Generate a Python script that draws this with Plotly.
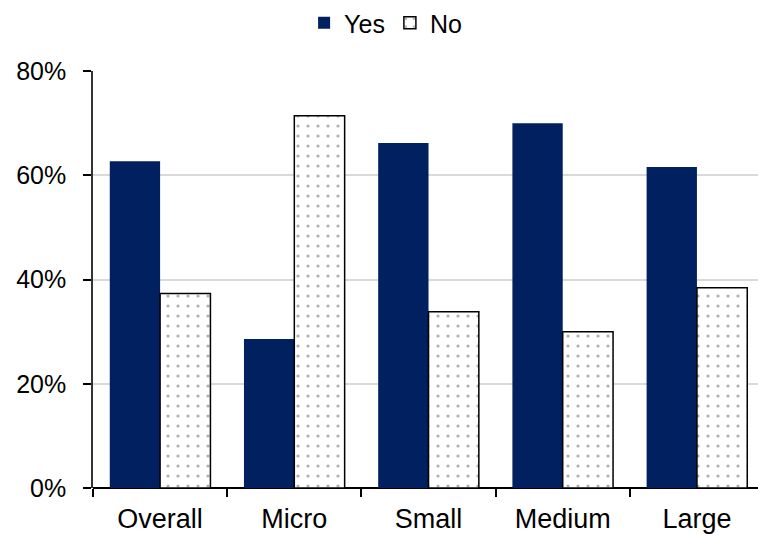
import plotly.graph_objects as go

categories = ["Overall", "Micro", "Small", "Medium", "Large"]
yes_values = [62.7, 28.6, 66.2, 70.0, 61.6]
no_values = [37.3, 71.4, 33.8, 30.0, 38.4]
y_ticks = [0, 20, 40, 60, 80]
y_tick_labels = ["0%", "20%", "40%", "60%", "80%"]

FONT = "Liberation Sans, Arial, sans-serif"

fig = go.Figure()
fig.add_trace(go.Bar(
    name="Yes", x=categories, y=yes_values,
    marker=dict(color="#00205F", line=dict(width=0)),
))
fig.add_trace(go.Bar(
    name="No", x=categories, y=no_values,
    marker=dict(
        color="white",
        line=dict(color="black", width=1.5),
        pattern=dict(shape=".", fgcolor="#B0B0B0", bgcolor="white",
                     size=10, solidity=0.08, fillmode="replace"),
    ),
))

fig.update_layout(
    width=758, height=535,
    margin=dict(l=93, r=0, t=71, b=47),
    paper_bgcolor="white", plot_bgcolor="white",
    barmode="group", bargap=0.25, bargroupgap=0,
    font=dict(family=FONT, size=24, color="black"),
    showlegend=True,
    legend=dict(orientation="h", x=0.44, xanchor="center",
                y=1.0, yanchor="top", yref="container",
                font=dict(size=25), traceorder="normal",
                itemwidth=30),
    xaxis=dict(
        range=[-0.5, 4.455], showgrid=False,
        showline=False, ticks="outside", tickson="boundaries",
        ticklen=8, tickcolor="black", tickwidth=1.5,
        ticklabelstandoff=12,
        tickfont=dict(size=27, family=FONT),
    ),
    yaxis=dict(
        range=[0, 80], tickvals=y_ticks, ticktext=y_tick_labels,
        showgrid=True, gridcolor="#D9D9D9", gridwidth=1.5,
        showline=True, linecolor="#333333", linewidth=1.5,
        ticks="outside", ticklen=8, tickcolor="black", tickwidth=1.5,
        ticklabelstandoff=12,
        zeroline=True, zerolinecolor="black", zerolinewidth=1.5,
        tickfont=dict(size=25, family=FONT),
    ),
)

fig.write_html("out.html")
